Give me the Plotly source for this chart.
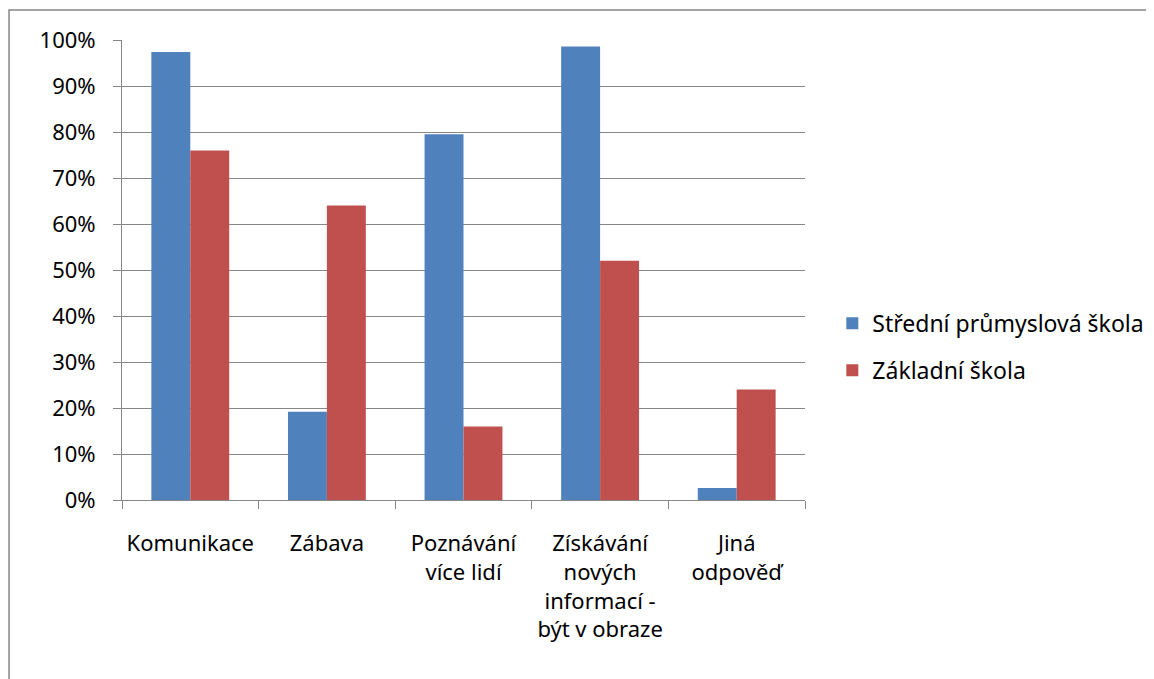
import plotly.graph_objects as go

categories = ["Komunikace", "Zábava", "Poznávání<br>více lidí",
              "Získávání<br>nových<br>informací -<br>být v obraze", "Jiná<br>odpověď"]
spš = [0.974, 0.192, 0.795, 0.986, 0.026]
zs = [0.76, 0.64, 0.16, 0.52, 0.24]
y_ticks = [0, 0.1, 0.2, 0.3, 0.4, 0.5, 0.6, 0.7, 0.8, 0.9, 1.0]

font = "Noto Sans, DejaVu Sans, sans-serif"

fig = go.Figure()
fig.add_trace(go.Bar(x=categories, y=spš, name="Střední průmyslová škola",
                     legendgroup="a",
                     marker=dict(color="#4F81BD", line_width=0)))
fig.add_trace(go.Bar(x=categories, y=zs, name="Základní škola",
                     legendgroup="b",
                     marker=dict(color="#C0504D", line_width=0)))

# the page body adds an 8px offset, so the figure is 8px smaller
fig.update_layout(
    width=1146, height=671,
    margin=dict(l=114, r=349, t=32, b=179, autoexpand=False),
    paper_bgcolor="white", plot_bgcolor="white",
    barmode="group", bargap=0.43, bargroupgap=0,
    font=dict(family=font, size=22, color="black"),
    showlegend=True,
    legend=dict(x=1.04, y=0.333, xanchor="left", yanchor="middle",
                font=dict(size=23), tracegroupgap=14, itemwidth=30),
)
fig.update_xaxes(
    showgrid=False, showline=True, linecolor="#878787", linewidth=1,
    ticks="outside", tickson="boundaries", ticklen=8, tickcolor="#878787",
    ticklabelstandoff=24, tickangle=0, automargin=False,
)
fig.update_yaxes(
    range=[0, 1.0], tickvals=y_ticks, tickformat=".0%",
    showgrid=True, gridcolor="#878787", gridwidth=1,
    showline=True, linecolor="#878787", linewidth=1,
    ticks="outside", ticklen=8, tickcolor="#878787",
    ticklabelstandoff=13, zeroline=False, automargin=False,
)
# outer chart border
fig.add_shape(type="rect", xref="paper", yref="paper",
              x0=-0.1654, x1=1.6, y0=-0.5, y1=1.0652,
              line=dict(color="#878787", width=1.5))

fig.write_html("out.html")
